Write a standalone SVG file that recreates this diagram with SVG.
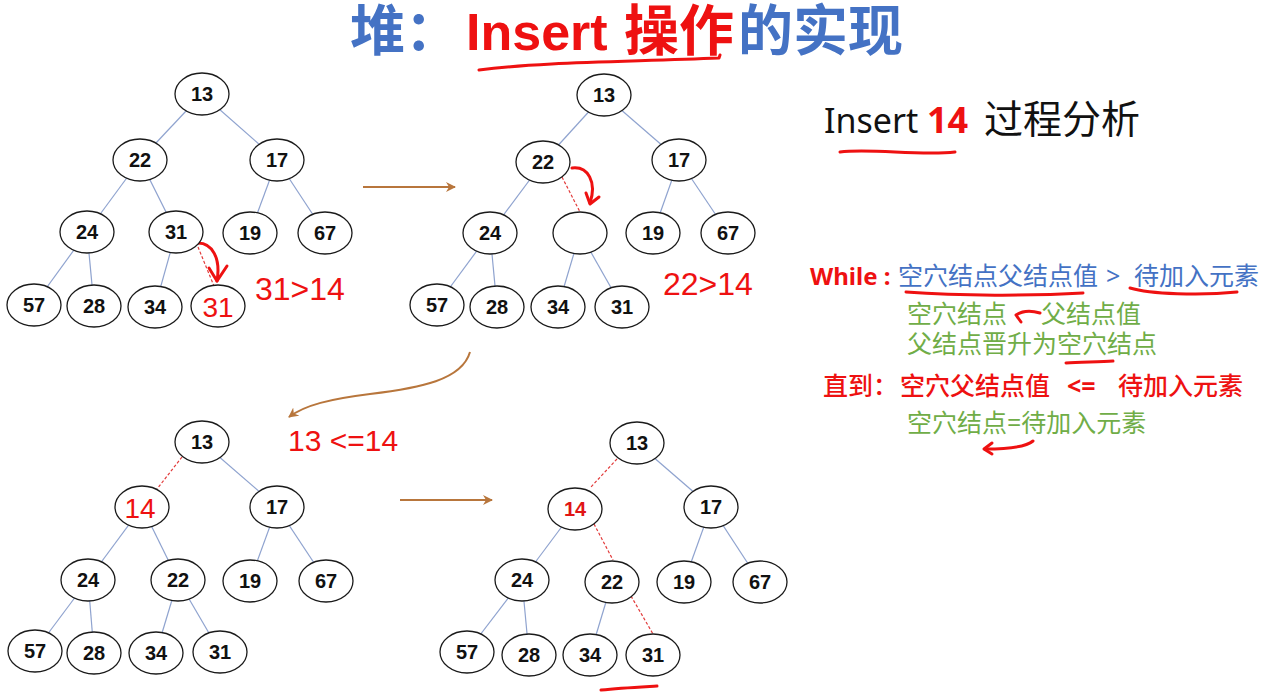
<svg xmlns="http://www.w3.org/2000/svg" width="1272" height="697" viewBox="0 0 1272 697">
<style>
.node ellipse{fill:#fff;stroke:#1a1a1a;stroke-width:1.3}
.node text{font-family:"Liberation Sans",Arial,sans-serif;font-weight:bold;font-size:20px;fill:#111;text-anchor:middle}
.node text.hand{font-weight:normal;font-size:28px;fill:#ee1111}
.node text.red{fill:#e01515}
.edge{stroke:#8fa3cf;stroke-width:1.2;fill:none}
.dash{stroke:#e23a3a;stroke-width:1.2;stroke-dasharray:3 2;fill:none}
.brown{stroke:#b8763c;stroke-width:2;fill:none}
.ink{stroke:#ee1111;stroke-width:3;fill:none;stroke-linecap:round;stroke-linejoin:round}
.hw{font-family:"Liberation Sans",Arial,sans-serif;fill:#ee1111}
.cjk{font-family:"Noto Sans","Noto Sans CJK SC",sans-serif}
.lat{font-family:"Liberation Sans",Arial,sans-serif}
</style>
<defs>
<marker id="ah" viewBox="0 0 10 10" refX="9" refY="5" markerWidth="5" markerHeight="5" orient="auto" markerUnits="strokeWidth">
<path d="M0,0 L10,5 L0,10 L3,5 Z" fill="#b8763c"/>
</marker>
</defs>
<rect width="1272" height="697" fill="#fff"/>

<g id="title" font-weight="bold">
<text class="cjk" x="350" y="50" font-size="55" fill="#4472c4">堆：</text>
<text class="lat" x="466" y="50" font-size="52" fill="#ee1111">Insert</text>
<text class="cjk" x="624" y="50" font-size="55" fill="#ee1111">操作</text>
<text class="cjk" x="738" y="50" font-size="55" fill="#4472c4">的实现</text>
<path class="ink" d="M479,70 C540,62 620,62 719,58 L720,55"/>
</g>

<g id="subtitle">
<text class="cjk" x="824" y="133" font-size="34" fill="#111">Insert</text>
<text class="cjk" x="927" y="133" font-size="36" font-weight="bold" fill="#ee1111">14</text>
<text class="cjk" x="984" y="133" font-size="39" fill="#111">过程分析</text>
<path class="ink" d="M840,152 C870,148 920,156 955,152"/>
</g>

<g id="connectors">
<!-- tree 1 -->
<line class="edge" x1="202" y1="94" x2="140" y2="160"/>
<line class="edge" x1="202" y1="94" x2="277" y2="160"/>
<line class="edge" x1="140" y1="160" x2="87" y2="232"/>
<line class="edge" x1="140" y1="160" x2="176" y2="232"/>
<line class="edge" x1="277" y1="160" x2="250" y2="233"/>
<line class="edge" x1="277" y1="160" x2="325" y2="233"/>
<line class="edge" x1="87" y1="232" x2="34" y2="305"/>
<line class="edge" x1="87" y1="232" x2="94" y2="306"/>
<line class="edge" x1="176" y1="232" x2="155" y2="307"/>
<line class="dash" x1="198" y1="247" x2="214" y2="286"/>
<!-- tree 2 -->
<line class="edge" x1="604" y1="95" x2="543" y2="162"/>
<line class="edge" x1="604" y1="95" x2="679" y2="160"/>
<line class="edge" x1="543" y1="162" x2="490" y2="233"/>
<line class="dash" x1="562" y1="177" x2="580" y2="212"/>
<line class="edge" x1="679" y1="160" x2="653" y2="233"/>
<line class="edge" x1="679" y1="160" x2="728" y2="233"/>
<line class="edge" x1="490" y1="233" x2="437" y2="305"/>
<line class="edge" x1="490" y1="233" x2="497" y2="307"/>
<line class="edge" x1="580" y1="233" x2="558" y2="307"/>
<line class="edge" x1="580" y1="233" x2="622" y2="307"/>
<!-- tree 3 -->
<line class="dash" x1="182" y1="457" x2="157" y2="489"/>
<line class="edge" x1="202" y1="442" x2="277" y2="507"/>
<line class="edge" x1="142" y1="507" x2="88" y2="580"/>
<line class="edge" x1="142" y1="507" x2="178" y2="580"/>
<line class="edge" x1="277" y1="507" x2="250" y2="581"/>
<line class="edge" x1="277" y1="507" x2="326" y2="581"/>
<line class="edge" x1="88" y1="580" x2="35" y2="651"/>
<line class="edge" x1="88" y1="580" x2="94" y2="653"/>
<line class="edge" x1="178" y1="580" x2="156" y2="653"/>
<line class="edge" x1="178" y1="580" x2="220" y2="652"/>
<!-- tree 4 -->
<line class="dash" x1="617" y1="459" x2="590" y2="488"/>
<line class="edge" x1="637" y1="443" x2="711" y2="507"/>
<line class="edge" x1="575" y1="509" x2="522" y2="580"/>
<line class="dash" x1="594" y1="524" x2="613" y2="560"/>
<line class="edge" x1="711" y1="507" x2="684" y2="582"/>
<line class="edge" x1="711" y1="507" x2="760" y2="582"/>
<line class="edge" x1="522" y1="580" x2="467" y2="652"/>
<line class="edge" x1="522" y1="580" x2="529" y2="655"/>
<line class="edge" x1="612" y1="582" x2="590" y2="655"/>
<line class="dash" x1="631" y1="596" x2="653" y2="634"/>
<!-- step arrows -->
<line class="brown" x1="363" y1="187" x2="455" y2="187" marker-end="url(#ah)"/>
<path class="brown" d="M470,352 C462,380 420,388 370,394 C330,399 305,405 289,417" marker-end="url(#ah)"/>
<line class="brown" x1="400" y1="500" x2="492" y2="500" marker-end="url(#ah)"/>
<!-- red hand arrows -->
<path class="ink" d="M198,243 C212,243 221,258 217,281"/>
<polyline class="ink" points="209,268 217,281 227,266"/>
<path class="ink" d="M572,168 C588,166 597,182 590,203"/>
<polyline class="ink" points="586,193 590,204 599,197"/>
</g>

<g id="t1">
<g class="node" id="t1-13"><ellipse cx="202" cy="94" rx="27" ry="21"/><text x="202" y="101">13</text></g>
<g class="node" id="t1-22"><ellipse cx="140" cy="160" rx="27" ry="21"/><text x="140" y="167">22</text></g>
<g class="node" id="t1-17"><ellipse cx="277" cy="160" rx="27" ry="21"/><text x="277" y="167">17</text></g>
<g class="node" id="t1-24"><ellipse cx="87" cy="232" rx="27" ry="21"/><text x="87" y="239">24</text></g>
<g class="node" id="t1-31"><ellipse cx="176" cy="232" rx="27" ry="21"/><text x="176" y="239">31</text></g>
<g class="node" id="t1-19"><ellipse cx="250" cy="233" rx="27" ry="21"/><text x="250" y="240">19</text></g>
<g class="node" id="t1-67"><ellipse cx="325" cy="233" rx="27" ry="21"/><text x="325" y="240">67</text></g>
<g class="node" id="t1-57"><ellipse cx="34" cy="305" rx="27" ry="21"/><text x="34" y="312">57</text></g>
<g class="node" id="t1-28"><ellipse cx="94" cy="306" rx="27" ry="21"/><text x="94" y="313">28</text></g>
<g class="node" id="t1-34"><ellipse cx="155" cy="307" rx="27" ry="21"/><text x="155" y="314">34</text></g>
<g class="node" id="t1-new"><ellipse cx="218" cy="306" rx="27" ry="21"/><text class="hand" x="218" y="317">31</text></g>
</g>

<g id="t2">
<g class="node" id="t2-13"><ellipse cx="604" cy="95" rx="27" ry="21"/><text x="604" y="102">13</text></g>
<g class="node" id="t2-22"><ellipse cx="543" cy="162" rx="27" ry="21"/><text x="543" y="169">22</text></g>
<g class="node" id="t2-17"><ellipse cx="679" cy="160" rx="27" ry="21"/><text x="679" y="167">17</text></g>
<g class="node" id="t2-24"><ellipse cx="490" cy="233" rx="27" ry="21"/><text x="490" y="240">24</text></g>
<g class="node" id="t2-hole"><ellipse cx="580" cy="233" rx="27" ry="21"/></g>
<g class="node" id="t2-19"><ellipse cx="653" cy="233" rx="27" ry="21"/><text x="653" y="240">19</text></g>
<g class="node" id="t2-67"><ellipse cx="728" cy="233" rx="27" ry="21"/><text x="728" y="240">67</text></g>
<g class="node" id="t2-57"><ellipse cx="437" cy="305" rx="27" ry="21"/><text x="437" y="312">57</text></g>
<g class="node" id="t2-28"><ellipse cx="497" cy="307" rx="27" ry="21"/><text x="497" y="314">28</text></g>
<g class="node" id="t2-34"><ellipse cx="558" cy="307" rx="27" ry="21"/><text x="558" y="314">34</text></g>
<g class="node" id="t2-31"><ellipse cx="622" cy="307" rx="27" ry="21"/><text x="622" y="314">31</text></g>
</g>

<g id="t3">
<g class="node" id="t3-13"><ellipse cx="202" cy="442" rx="27" ry="21"/><text x="202" y="449">13</text></g>
<g class="node" id="t3-14"><ellipse cx="142" cy="507" rx="27" ry="21"/><text class="hand" x="140" y="518">14</text></g>
<g class="node" id="t3-17"><ellipse cx="277" cy="507" rx="27" ry="21"/><text x="277" y="514">17</text></g>
<g class="node" id="t3-24"><ellipse cx="88" cy="580" rx="27" ry="21"/><text x="88" y="587">24</text></g>
<g class="node" id="t3-22"><ellipse cx="178" cy="580" rx="27" ry="21"/><text x="178" y="587">22</text></g>
<g class="node" id="t3-19"><ellipse cx="250" cy="581" rx="27" ry="21"/><text x="250" y="588">19</text></g>
<g class="node" id="t3-67"><ellipse cx="326" cy="581" rx="27" ry="21"/><text x="326" y="588">67</text></g>
<g class="node" id="t3-57"><ellipse cx="35" cy="651" rx="27" ry="21"/><text x="35" y="658">57</text></g>
<g class="node" id="t3-28"><ellipse cx="94" cy="653" rx="27" ry="21"/><text x="94" y="660">28</text></g>
<g class="node" id="t3-34"><ellipse cx="156" cy="653" rx="27" ry="21"/><text x="156" y="660">34</text></g>
<g class="node" id="t3-31"><ellipse cx="220" cy="652" rx="27" ry="21"/><text x="220" y="659">31</text></g>
</g>

<g id="t4">
<g class="node" id="t4-13"><ellipse cx="637" cy="443" rx="27" ry="21"/><text x="637" y="450">13</text></g>
<g class="node" id="t4-14"><ellipse cx="575" cy="509" rx="27" ry="21"/><text class="red" x="575" y="516">14</text></g>
<g class="node" id="t4-17"><ellipse cx="711" cy="507" rx="27" ry="21"/><text x="711" y="514">17</text></g>
<g class="node" id="t4-24"><ellipse cx="522" cy="580" rx="27" ry="21"/><text x="522" y="587">24</text></g>
<g class="node" id="t4-22"><ellipse cx="612" cy="582" rx="27" ry="21"/><text x="612" y="589">22</text></g>
<g class="node" id="t4-19"><ellipse cx="684" cy="582" rx="27" ry="21"/><text x="684" y="589">19</text></g>
<g class="node" id="t4-67"><ellipse cx="760" cy="582" rx="27" ry="21"/><text x="760" y="589">67</text></g>
<g class="node" id="t4-57"><ellipse cx="467" cy="652" rx="27" ry="21"/><text x="467" y="659">57</text></g>
<g class="node" id="t4-28"><ellipse cx="529" cy="655" rx="27" ry="21"/><text x="529" y="662">28</text></g>
<g class="node" id="t4-34"><ellipse cx="590" cy="655" rx="27" ry="21"/><text x="590" y="662">34</text></g>
<g class="node" id="t4-31"><ellipse cx="653" cy="655" rx="27" ry="21"/><text x="653" y="662">31</text></g>
<path class="ink" d="M601,690 C620,688 640,687 657,686"/>
</g>

<g id="notes">
<text class="hw" x="255" y="300" font-size="32">31&gt;14</text>
<text class="hw" x="663" y="295" font-size="32">22&gt;14</text>
<text class="hw" x="288" y="451" font-size="30">13 &lt;=14</text>
</g>

<g id="rules" class="cjk" font-size="25">
<text x="810" y="285" fill="#ee1111" font-weight="bold" font-size="24">While :</text>
<text x="898" y="285" fill="#4472c4">空穴结点父结点值</text>
<text x="1106" y="285" fill="#4472c4">&gt;</text>
<text x="1134" y="285" fill="#4472c4">待加入元素</text>
<path class="ink" d="M906,292 C960,296 1030,296 1083,293"/>
<path class="ink" d="M1130,288 C1150,294 1200,296 1237,292"/>
<text x="907" y="323" fill="#70ad47">空穴结点</text>
<text x="1041" y="323" fill="#70ad47">父结点值</text>
<path class="ink" d="M1040,313 C1030,310 1022,311 1016,315 L1021,322"/>
<text x="907" y="353" fill="#70ad47">父结点晋升为空穴结点</text>
<path class="ink" d="M1066,363 C1080,362 1100,362 1113,361"/>
<text x="823" y="395" fill="#ee1111" font-weight="500">直到：</text>
<text x="900" y="395" fill="#ee1111" font-weight="500">空穴父结点值</text>
<text x="1067" y="395" fill="#ee1111" font-weight="bold">&lt;=</text>
<text x="1118" y="395" fill="#ee1111" font-weight="500">待加入元素</text>
<text x="907" y="432" fill="#70ad47">空穴结点=待加入元素</text>
<path class="ink" d="M1033,441 C1025,448 1005,449 985,449"/>
<polyline class="ink" points="992,443 984,449 992,454"/>
</g>
</svg>
